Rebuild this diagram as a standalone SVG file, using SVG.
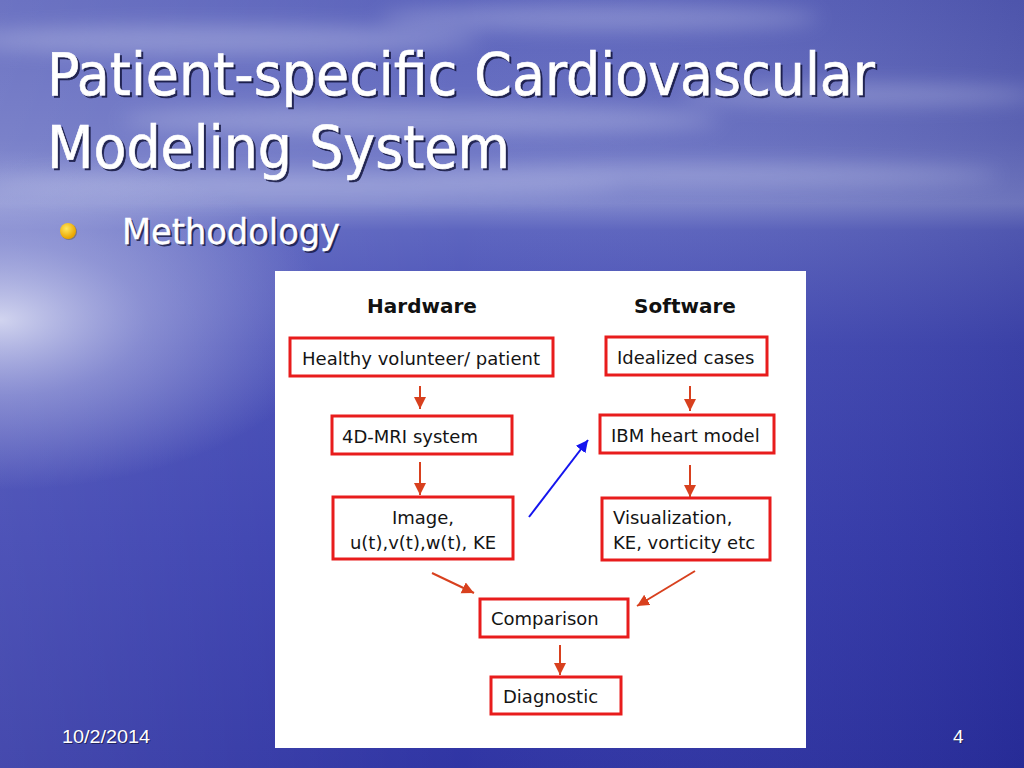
<svg xmlns="http://www.w3.org/2000/svg" width="1024" height="768" viewBox="0 0 1024 768">
  <defs>
    <linearGradient id="bgv" x1="0" y1="0" x2="0" y2="1">
      <stop offset="0" stop-color="#5860ba"/>
      <stop offset="0.18" stop-color="#6870c2"/>
      <stop offset="0.265" stop-color="#7c84cc"/>
      <stop offset="0.3" stop-color="#5a62be"/>
      <stop offset="0.45" stop-color="#4249b4"/>
      <stop offset="0.7" stop-color="#363cae"/>
      <stop offset="1" stop-color="#2c31a2"/>
    </linearGradient>
    <linearGradient id="shade" x1="0" y1="0" x2="1" y2="0">
      <stop offset="0" stop-color="#ffffff" stop-opacity="0.12"/>
      <stop offset="0.45" stop-color="#ffffff" stop-opacity="0.02"/>
      <stop offset="1" stop-color="#000040" stop-opacity="0.12"/>
    </linearGradient>
    <radialGradient id="glare" cx="0.5" cy="0.5" r="0.5">
      <stop offset="0" stop-color="#eef0fb" stop-opacity="0.8"/>
      <stop offset="0.45" stop-color="#c4c8ec" stop-opacity="0.45"/>
      <stop offset="1" stop-color="#c4c8ec" stop-opacity="0"/>
    </radialGradient>
    <radialGradient id="bullet" cx="0.4" cy="0.35" r="0.6">
      <stop offset="0" stop-color="#ffe860"/>
      <stop offset="1" stop-color="#eaa600"/>
    </radialGradient>
    <filter id="blur" x="-20%" y="-100%" width="140%" height="300%">
      <feGaussianBlur stdDeviation="10"/>
    </filter>
    <marker id="ar" markerUnits="userSpaceOnUse" markerWidth="14" markerHeight="14" refX="12" refY="6" orient="auto">
      <path d="M0,0 L12,6 L0,12 z" fill="#d8401e"/>
    </marker>
    <marker id="ab" markerUnits="userSpaceOnUse" markerWidth="14" markerHeight="14" refX="12" refY="6" orient="auto">
      <path d="M0,0 L12,6 L0,12 z" fill="#1414ee"/>
    </marker>
  </defs>
  <style>
    .title { font-family: "DejaVu Sans Condensed", "DejaVu Sans", sans-serif; font-size: 58px; fill: #ffffff; stroke: #ffffff; stroke-width: 0.6; }
    .tshadow { font-family: "DejaVu Sans Condensed", "DejaVu Sans", sans-serif; font-size: 58px; fill: #14163e; fill-opacity: 0.85; stroke: #14163e; stroke-width: 0.6; stroke-opacity: 0.85; }
    .bul { font-family: "DejaVu Sans Condensed", "DejaVu Sans", sans-serif; font-size: 35px; fill: #ffffff; stroke: #ffffff; stroke-width: 0.3; }
    .bulsh { font-family: "DejaVu Sans Condensed", "DejaVu Sans", sans-serif; font-size: 35px; fill: #14163e; fill-opacity: 0.8; }
    .foot { font-family: "Liberation Sans", Arial, sans-serif; font-size: 19px; fill: #ffffff; }
    .footsh { font-family: "Liberation Sans", Arial, sans-serif; font-size: 19px; fill: #14163e; fill-opacity: 0.7; }
    .box { fill: #ffffff; stroke: #e81c1c; stroke-width: 3; }
    .lbl { font-family: "DejaVu Sans", Verdana, sans-serif; font-size: 18px; fill: #141414; }
    .hdr { font-family: "DejaVu Sans", Verdana, sans-serif; font-size: 20px; font-weight: bold; fill: #111111; text-anchor: middle; }
    .rc { stroke: #d8401e; stroke-width: 2; fill: none; marker-end: url(#ar); }
    .bc { stroke: #1414ee; stroke-width: 2; fill: none; marker-end: url(#ab); }
  </style>

  <!-- background -->
  <g id="background">
    <rect x="0" y="0" width="1024" height="768" fill="url(#bgv)"/>
    <rect x="0" y="0" width="1024" height="768" fill="url(#shade)"/>
    <g filter="url(#blur)" fill="#e2e5f8" opacity="0.3">
      <ellipse cx="220" cy="40" rx="260" ry="14"/>
      <ellipse cx="600" cy="18" rx="220" ry="12"/>
      <ellipse cx="420" cy="120" rx="300" ry="14"/>
      <ellipse cx="860" cy="95" rx="180" ry="10"/>
      <ellipse cx="300" cy="185" rx="320" ry="12"/>
      <ellipse cx="700" cy="175" rx="300" ry="10"/>
    </g>
    <ellipse cx="0" cy="320" rx="330" ry="170" fill="url(#glare)"/>
  </g>

  <!-- slide texts -->
  <g id="title">
    <text class="tshadow" x="49" y="97" textLength="828" lengthAdjust="spacingAndGlyphs">Patient-specific Cardiovascular</text>
    <text class="title" x="47" y="95" textLength="828" lengthAdjust="spacingAndGlyphs">Patient-specific Cardiovascular</text>
    <text class="tshadow" x="49" y="170" textLength="463" lengthAdjust="spacingAndGlyphs">Modeling System</text>
    <text class="title" x="47" y="168" textLength="463" lengthAdjust="spacingAndGlyphs">Modeling System</text>
  </g>
  <g id="bullet">
    <circle cx="69" cy="232" r="8" fill="#6a5a30" opacity="0.5"/>
    <circle cx="68" cy="231" r="8" fill="url(#bullet)"/>
    <text class="bulsh" x="124" y="246" textLength="218" lengthAdjust="spacingAndGlyphs">Methodology</text>
    <text class="bul" x="122" y="244" textLength="218" lengthAdjust="spacingAndGlyphs">Methodology</text>
  </g>
  <g id="footer">
    <text class="footsh" x="63" y="744" textLength="88" lengthAdjust="spacingAndGlyphs">10/2/2014</text>
    <text class="foot" x="62" y="743" textLength="88" lengthAdjust="spacingAndGlyphs">10/2/2014</text>
    <text class="footsh" x="954" y="744">4</text>
    <text class="foot" x="953" y="743">4</text>
  </g>

  <!-- diagram panel -->
  <rect id="panel" x="275" y="271" width="531" height="477" fill="#ffffff"/>

  <g id="headers">
    <text class="hdr" x="422" y="313">Hardware</text>
    <text class="hdr" x="685" y="313">Software</text>
  </g>

  <g id="node-healthy">
    <rect class="box" x="290" y="338" width="263" height="38"/>
    <text class="lbl" x="302" y="365" textLength="238" lengthAdjust="spacingAndGlyphs">Healthy volunteer/ patient</text>
  </g>
  <g id="node-idealized">
    <rect class="box" x="606" y="337" width="161" height="38"/>
    <text class="lbl" x="617" y="364">Idealized cases</text>
  </g>
  <g id="node-mri">
    <rect class="box" x="332" y="416" width="180" height="38"/>
    <text class="lbl" x="342" y="443">4D-MRI system</text>
  </g>
  <g id="node-ibm">
    <rect class="box" x="600" y="415" width="174" height="38"/>
    <text class="lbl" x="611" y="442">IBM heart model</text>
  </g>
  <g id="node-image">
    <rect class="box" x="333" y="497" width="180" height="62"/>
    <text class="lbl" x="423" y="524" text-anchor="middle">Image,</text>
    <text class="lbl" x="423" y="549" text-anchor="middle">u(t),v(t),w(t), KE</text>
  </g>
  <g id="node-vis">
    <rect class="box" x="602" y="498" width="168" height="62"/>
    <text class="lbl" x="613" y="524">Visualization,</text>
    <text class="lbl" x="613" y="549">KE, vorticity etc</text>
  </g>
  <g id="node-comparison">
    <rect class="box" x="480" y="599" width="148" height="38"/>
    <text class="lbl" x="491" y="625">Comparison</text>
  </g>
  <g id="node-diagnostic">
    <rect class="box" x="491" y="677" width="130" height="37"/>
    <text class="lbl" x="503" y="703">Diagnostic</text>
  </g>

  <g id="connectors">
    <line class="rc" x1="420" y1="386" x2="420" y2="409"/>
    <line class="rc" x1="420" y1="462" x2="420" y2="495"/>
    <line class="rc" x1="690" y1="386" x2="690" y2="411"/>
    <line class="rc" x1="690" y1="465" x2="690" y2="497"/>
    <line class="bc" x1="529" y1="517" x2="588" y2="440"/>
    <line class="rc" x1="432" y1="573" x2="474" y2="593"/>
    <line class="rc" x1="695" y1="571" x2="637" y2="606"/>
    <line class="rc" x1="560" y1="645" x2="560" y2="675"/>
  </g>
</svg>
